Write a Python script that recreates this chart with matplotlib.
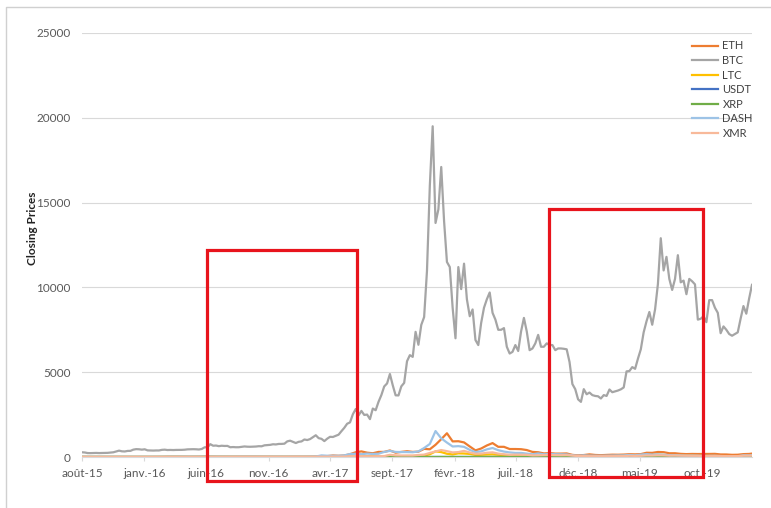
import numpy as np
import pandas as pd
import matplotlib
matplotlib.use('Agg')
import matplotlib.pyplot as plt
from matplotlib.patches import Rectangle
from matplotlib.lines import Line2D

plt.rcParams['font.family'] = ['Lato', 'DejaVu Sans']

start = '2015-08-07'

# weekly BTC closes, from 2015-08-07
btc_close = [
    279, 265, 232, 229, 235, 240, 232, 236, 238, 245, 264, 278, 328,
    375, 335, 326, 358, 362, 434, 463, 455,
    434, 455, 390, 383, 379, 386, 385, 421, 432, 410, 416, 410, 417,
    417, 420, 430, 450, 455, 460, 455, 442, 473, 570, 577, 756, 665,
    676, 640, 664, 651, 655, 575, 587, 575, 577, 599, 622, 607, 603, 609,
    617, 637, 631, 688, 703, 716, 751, 740, 770, 772, 785, 922, 962,
    892, 823, 895, 919, 1032, 1000, 1056, 1172, 1283, 1112, 1071, 938, 1079,
    1190, 1180, 1246, 1317, 1524, 1720, 1961, 2039, 2517, 2828, 2453, 2717, 2480,
    2502, 2233, 2856, 2757, 3252, 3650, 4160, 4337, 4892, 4226, 3637, 3630, 4166,
    4370, 5647, 6006, 5904, 7379, 6618, 7790, 8250, 10975, 16000, 19500, 13800, 14600,
    17100, 13900, 11500, 11200, 8800, 7000, 11200, 9900, 11400, 9300, 8300, 8700, 6900,
    6600, 7900, 8800, 9300, 9700, 8500, 8100, 7500, 7500, 7600, 6500, 6100, 6200,
    6600, 6250, 7400, 8200, 7400, 6300, 6400, 6700, 7200, 6500, 6500, 6700, 6600,
    6600, 6300, 6400, 6400, 6380, 6350, 5600, 4300, 4000, 3400, 3250, 4000, 3700,
    3800, 3650, 3600, 3580, 3450, 3650, 3600, 3980, 3820, 3870, 3920, 3990, 4100,
    5050, 5070, 5300, 5200, 5800, 6350, 7350, 8000, 8550, 7800, 8700, 10200, 12900,
    11000, 11800, 10500, 9850, 10500, 11900, 10300, 10400, 9600, 10500, 10360, 10180, 8100,
    8150, 8300, 7950, 9250, 9250, 8800, 8500, 7300, 7700, 7500, 7250, 7150, 7250,
    7350, 8150, 8900, 8450, 9350, 10150,
]

# two-weekly closes, from 2015-08-07
eth_close = [
    2.8, 1.3, 1.3, 0.9, 0.68, 0.5, 1.0, 0.9, 0.9, 0.95, 0.87,
    0.95, 1.6, 2.5, 4.3, 9.5, 10.5, 11.5, 8.5, 7.5, 9.5, 12.5, 14, 13,
    11, 11.5, 11, 10.8, 12.2, 12.9, 12.5, 11.9, 11.0, 10.2, 8.3, 8.4, 7.2,
    10.2, 10.8, 11.2, 12.8, 19, 44, 50, 88, 72, 88, 165, 280, 330,
    255, 220, 300, 300, 385, 255, 300, 340, 300, 315, 480, 455, 720,
    1050, 1400, 920, 930, 860, 620, 390, 500, 680, 820, 600, 600, 470,
    470, 460, 410, 300, 280, 210, 230, 200, 200, 210, 125, 95, 115,
    155, 120, 107, 122, 136, 133, 142, 164, 155, 170, 250, 245, 296,
    285, 220, 220, 185, 170, 180, 175, 180, 180, 185, 150, 148, 128,
    134, 170, 180, 222,
]
ltc_close = [
    4.0, 2.7, 3.0, 2.9, 3.0, 3.0, 3.3, 3.6, 3.3, 3.5, 3.5,
    3.7, 3.2, 3.2, 3.4, 3.2, 3.2, 3.4, 3.4, 3.7, 4.1, 4.7, 4.8, 4.0,
    4.0, 4.2, 3.7, 3.8, 3.9, 3.8, 3.9, 3.8, 4.0, 3.9, 3.8, 4.0, 4.4,
    3.8, 3.9, 3.9, 4.0, 3.9, 3.9, 7.0, 10, 15, 24, 25, 30, 40,
    49, 46, 42, 43, 75, 62, 49, 56, 60, 63, 85, 160, 330,
    290, 190, 150, 215, 205, 180, 120, 128, 145, 155, 130, 118, 95,
    90, 85, 85, 65, 65, 55, 55, 53, 52, 52, 35, 27, 32,
    32, 32, 30, 46, 47, 57, 60, 85, 75, 78, 100, 110, 135,
    120, 95, 95, 77, 70, 74, 58, 57, 56, 58, 50, 46, 43,
    40, 55, 57, 60,
]
dash_close = [
    3.6, 3.2, 3.3, 3.2, 3.1, 2.9, 3.0, 2.8, 3.1, 3.2, 3.3,
    3.5, 3.5, 3.3, 3.8, 5.0, 7.0, 8.1, 9.5, 8.7, 8.9, 11.5, 11.7, 8.9,
    8.5, 7.2, 8.4, 8.8, 11.7, 11.4, 11.8, 10.8, 10.2, 9.9, 9.1, 7.9, 8.1,
    11.5, 11.8, 12.4, 16.4, 26, 95, 75, 70, 71, 95, 175, 190, 165,
    200, 180, 190, 300, 360, 300, 290, 290, 280, 330, 530, 770, 1530,
    1100, 850, 620, 640, 600, 420, 290, 330, 450, 530, 400, 320, 270,
    240, 240, 200, 160, 210, 160, 180, 165, 160, 150, 100, 70, 95,
    80, 75, 70, 80, 85, 90, 95, 120, 100, 140, 170, 140, 155,
    135, 110, 105, 92, 80, 84, 78, 62, 68, 70, 54, 48, 46,
    44, 100, 95, 120,
]
xmr_close = [
    0.85, 0.6, 0.55, 0.5, 0.45, 0.5, 0.6, 0.5, 0.48, 0.5, 0.45,
    0.48, 0.5, 0.5, 0.9, 1.8, 1.3, 1.5, 1.2, 1.2, 1.4, 1.5, 2.2, 2.0,
    2.0, 2.5, 6.0, 8.0, 10, 9.0, 8.5, 7.5, 11, 10, 8.5, 7.5, 8.0,
    14, 13, 12, 13, 16, 21, 20, 23, 22, 27, 45, 52, 48,
    45, 42, 48, 55, 130, 95, 90, 90, 88, 120, 140, 240, 330,
    410, 345, 270, 290, 360, 265, 190, 200, 250, 275, 200, 165, 130,
    140, 135, 130, 95, 100, 110, 115, 110, 105, 110, 85, 55, 55,
    50, 46, 46, 50, 50, 52, 53, 70, 65, 70, 90, 88, 100,
    95, 80, 85, 78, 75, 70, 70, 55, 60, 63, 58, 52, 50,
    52, 75, 77, 90,
]

# monthly closes, from 2015-08-07
xrp_close = [
    0.008, 0.007, 0.005, 0.004, 0.006,
    0.006, 0.006, 0.008, 0.008, 0.007, 0.006, 0.007, 0.006, 0.007, 0.008, 0.007, 0.007,
    0.0065, 0.0065, 0.0065, 0.03, 0.06, 0.28, 0.25, 0.18, 0.25, 0.2, 0.22, 0.25,
    2.4, 1.3, 0.95, 0.5, 0.85, 0.6, 0.45, 0.4, 0.25, 0.5, 0.47, 0.37,
    0.36, 0.31, 0.31, 0.35, 0.3, 0.4, 0.38, 0.32, 0.27, 0.25, 0.29, 0.23,
    0.19, 0.27,
]
usdt_close = [
    1.00, 1.00, 1.00, 1.00, 1.00,
    1.00, 1.00, 1.00, 1.00, 0.99, 1.00, 1.00, 1.00, 1.00, 1.00, 1.00, 1.00,
    1.00, 1.00, 1.00, 0.98, 1.00, 1.00, 1.00, 1.00, 1.00, 1.00, 1.01, 1.03,
    1.01, 1.00, 1.00, 1.00, 1.00, 1.00, 1.00, 1.00, 1.00, 0.98, 1.00, 1.00,
    1.01, 1.01, 1.00, 1.01, 1.01, 1.00, 1.00, 1.00, 1.00, 1.00, 1.00, 1.00,
    1.00, 1.00,
]

tick_labels = ['août-15', 'janv.-16', 'juin-16', 'nov.-16', 'avr.-17', 'sept.-17',
               'févr.-18', 'juil.-18', 'déc.-18', 'mai-19', 'oct.-19']
y_ticks = [0, 5000, 10000, 15000, 20000, 25000]

weekly = pd.date_range(start, periods=len(btc_close), freq='7D')
biweekly = pd.date_range(start, periods=len(eth_close), freq='14D')
monthly = pd.date_range(start, periods=len(xrp_close), freq=pd.DateOffset(months=1))
tick_dates = pd.date_range(start, periods=len(tick_labels), freq=pd.DateOffset(months=5))

fig = plt.figure(figsize=(7.71, 5.08), dpi=100)
ax = fig.add_axes([82/771, 1 - 457/508, 670/771, 424/508])

lw = 1.6
ax.plot(biweekly, eth_close, color='#ED7D31', lw=lw, label='ETH')
ax.plot(weekly, btc_close, color='#A5A5A5', lw=lw, label='BTC')
ax.plot(biweekly, ltc_close, color='#FFC000', lw=lw, label='LTC')
ax.plot(monthly, usdt_close, color='#4472C4', lw=lw, label='USDT')
ax.plot(monthly, xrp_close, color='#70AD47', lw=lw, label='XRP')
ax.plot(biweekly, dash_close, color='#9DC3E6', lw=lw, label='DASH')
ax.plot(biweekly, xmr_close, color='#F8B99A', lw=lw, label='XMR')

ax.set_xlim(weekly[0], weekly[-1])
ax.set_ylim(0, 25000)
ax.set_yticks(y_ticks)
ax.set_yticklabels([str(v) for v in y_ticks])
ax.set_xticks(tick_dates)
ax.set_xticklabels(tick_labels)
ax.grid(axis='y', color='#d9d9d9', lw=0.8)
ax.set_axisbelow(True)
for s in ['top', 'right', 'left']:
    ax.spines[s].set_visible(False)
ax.spines['bottom'].set_color('#d9d9d9')
ax.tick_params(axis='y', length=0, pad=8, labelsize=8.5, labelcolor='#595959')
ax.tick_params(axis='x', length=3, color='#d9d9d9', pad=5, labelsize=8.5, labelcolor='#595959')

fig.text(32/771, 1 - 228/508, 'Closing Prices', rotation=90, ha='center', va='center',
         fontsize=8.5, fontweight='bold', color='#222222')

ax.legend(loc='upper left', bbox_to_anchor=(688/771, 1 - 36/508), bbox_transform=fig.transFigure,
          frameon=False, fontsize=8, handlelength=2.3, handletextpad=0.4,
          labelspacing=0.32, borderaxespad=0, labelcolor='#404040')

# red highlight boxes
for x0, y0, x1, y1 in [(207, 250, 357, 481), (549, 209, 703, 477)]:
    fig.patches.append(Rectangle((x0/771, 1 - y1/508), (x1 - x0)/771, (y1 - y0)/508,
                                 transform=fig.transFigure, fill=False,
                                 edgecolor='#e8141c', lw=2.3, zorder=10))

# light frame of the chart area
fig.lines.append(Line2D([6/771, 6/771, 1], [0, 1 - 7/508, 1 - 7/508],
                        transform=fig.transFigure, color='#d0d0d0', lw=1))

fig.savefig('out.png', dpi=100)
